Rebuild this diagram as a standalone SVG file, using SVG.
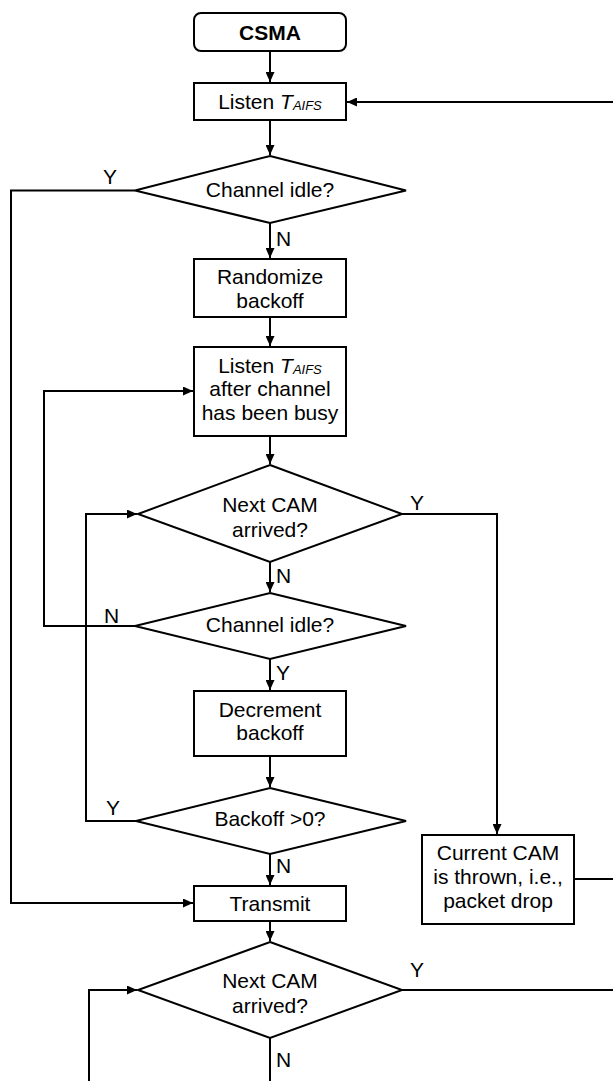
<svg xmlns="http://www.w3.org/2000/svg" width="613" height="1081" viewBox="0 0 613 1081">
  <style>
    .shape { fill: #ffffff; stroke: #000000; stroke-width: 2; }
    .wire { fill: none; stroke: #000000; stroke-width: 2; }
    text { font-family: "Liberation Sans", Arial, sans-serif; font-size: 21px; fill: #000000; }
    .c { text-anchor: middle; }
    .b { font-weight: bold; }
    .it { font-style: italic; }
    .sub { font-style: italic; font-size: 13px; }
  </style>
  <defs>
    <marker id="arr" markerUnits="userSpaceOnUse" markerWidth="11" markerHeight="9" refX="10" refY="4.5" orient="auto">
      <path d="M0,0 L10,4.5 L0,9 z" fill="#000000"/>
    </marker>
  </defs>
  <rect width="613" height="1081" fill="#ffffff"/>

  <!-- connectors -->
  <g id="connectors" class="wire">
    <path d="M270,51 V82" marker-end="url(#arr)"/>
    <path d="M613,102 H347" marker-end="url(#arr)"/>
    <path d="M270,120 V155" marker-end="url(#arr)"/>
    <path d="M270,223 V258" marker-end="url(#arr)"/>
    <path d="M270,317 V346" marker-end="url(#arr)"/>
    <path d="M270,436 V464" marker-end="url(#arr)"/>
    <path d="M270,562 V592" marker-end="url(#arr)"/>
    <path d="M270,659 V690" marker-end="url(#arr)"/>
    <path d="M270,756 V787" marker-end="url(#arr)"/>
    <path d="M270,854 V885" marker-end="url(#arr)"/>
    <path d="M270,921 V941" marker-end="url(#arr)"/>
    <path d="M270,1038 V1081"/>
    <path d="M135,190.5 H11 V903 H193" marker-end="url(#arr)"/>
    <path d="M135,626 H44 V391 H193" marker-end="url(#arr)"/>
    <path d="M136,821 H86 V514 H137" marker-end="url(#arr)"/>
    <path d="M402,514 H497 V834" marker-end="url(#arr)"/>
    <path d="M574,879 H613"/>
    <path d="M402,990 H613"/>
    <path d="M89,1081 V990 H137" marker-end="url(#arr)"/>
  </g>

  <!-- edge labels -->
  <g id="labels">
    <text x="110" y="184" class="c">Y</text>
    <text x="276" y="246">N</text>
    <text x="417" y="510" class="c">Y</text>
    <text x="276" y="582.5">N</text>
    <text x="111.5" y="622.5" class="c">N</text>
    <text x="276" y="680">Y</text>
    <text x="113" y="815" class="c">Y</text>
    <text x="276" y="873">N</text>
    <text x="417" y="977" class="c">Y</text>
    <text x="276" y="1067">N</text>
  </g>

  <g id="csma">
    <rect class="shape" x="194" y="13" width="152" height="38" rx="7"/>
    <text x="270" y="39.5" class="c b">CSMA</text>
  </g>

  <g id="listen">
    <rect class="shape" x="194" y="83" width="152" height="37"/>
    <text x="270" y="108.5" class="c">Listen <tspan class="it">T</tspan><tspan class="sub" dy="1">AIFS</tspan></text>
  </g>

  <g id="idle-1">
    <polygon class="shape" points="270,156 406,190.5 270,223 135,190.5"/>
    <text x="270" y="196.5" class="c">Channel idle?</text>
  </g>

  <g id="randomize">
    <rect class="shape" x="194" y="259" width="152" height="58"/>
    <text x="270" y="284" class="c">Randomize</text>
    <text x="270" y="307.5" class="c">backoff</text>
  </g>

  <g id="listen-busy">
    <rect class="shape" x="194" y="347" width="152" height="89"/>
    <text x="270" y="372.5" class="c">Listen <tspan class="it">T</tspan><tspan class="sub" dy="1">AIFS</tspan></text>
    <text x="270" y="396" class="c">after channel</text>
    <text x="270" y="419.5" class="c">has been busy</text>
  </g>

  <g id="next-cam-1">
    <polygon class="shape" points="270,465 402,514 270,562 138,514"/>
    <text x="270" y="511.5" class="c">Next CAM</text>
    <text x="270" y="536.5" class="c">arrived?</text>
  </g>

  <g id="idle-2">
    <polygon class="shape" points="270,593 406,626 270,659 135,626"/>
    <text x="270" y="631.5" class="c">Channel idle?</text>
  </g>

  <g id="decrement">
    <rect class="shape" x="194" y="691" width="152" height="65"/>
    <text x="270" y="716.5" class="c">Decrement</text>
    <text x="270" y="740" class="c">backoff</text>
  </g>

  <g id="backoff-check">
    <polygon class="shape" points="270,788 406,821 270,854 136,821"/>
    <text x="270" y="826" class="c">Backoff &gt;0?</text>
  </g>

  <g id="drop">
    <rect class="shape" x="422" y="835" width="152" height="89"/>
    <text x="498" y="860" class="c">Current CAM</text>
    <text x="498" y="884" class="c">is thrown, i.e.,</text>
    <text x="498" y="908" class="c">packet drop</text>
  </g>

  <g id="transmit">
    <rect class="shape" x="194" y="886" width="152" height="35"/>
    <text x="270" y="910.5" class="c">Transmit</text>
  </g>

  <g id="next-cam-2">
    <polygon class="shape" points="270,942 402,990 270,1038 138,990"/>
    <text x="270" y="988.3" class="c">Next CAM</text>
    <text x="270" y="1012.5" class="c">arrived?</text>
  </g>
</svg>
